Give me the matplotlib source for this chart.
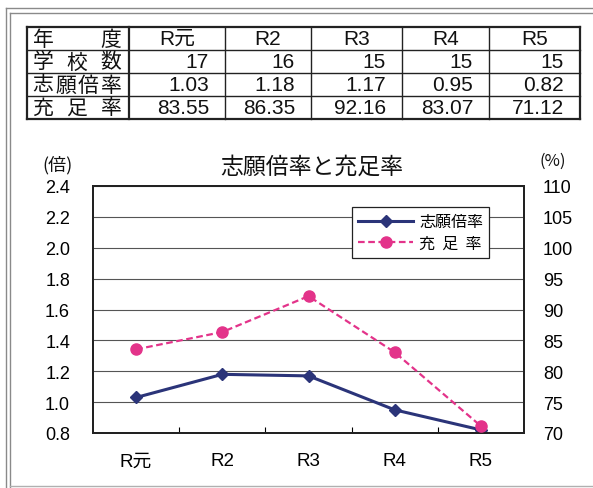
import matplotlib.pyplot as plt
import numpy as np

plt.rcParams['font.family'] = ['Liberation Sans', 'Noto Sans CJK JP']

# データ
years = ['R元', 'R2', 'R3', 'R4', 'R5']
schools = [17, 16, 15, 15, 15]
ratio = [1.03, 1.18, 1.17, 0.95, 0.82]
fill_rate = [83.55, 86.35, 92.16, 83.07, 71.12]
row_labels = ['年度', '学校数', '志願倍率', '充足率']
left_ticks = [0.8, 1.0, 1.2, 1.4, 1.6, 1.8, 2.0, 2.2, 2.4]
right_ticks = [70, 75, 80, 85, 90, 95, 100, 105, 110]

W, H = 593, 489
navy = '#2B3479'
pink = '#E3338A'
cjk = ['Noto Sans CJK JP', 'DejaVu Sans']

fig = plt.figure(figsize=(W / 100, H / 100), dpi=100)

# 背景（枠と表）をピクセル座標で
bg = fig.add_axes([0, 0, 1, 1])
bg.set_xlim(0, W)
bg.set_ylim(H, 0)
bg.axis('off')

# 二重枠
for x in (6, 10):
    bg.plot([x, x], [9 if x == 6 else 14, H], color='#8a8a8a', lw=1.0)
for y in (9, 14):
    bg.plot([6 if y == 9 else 10, W], [y, y], color='#8a8a8a', lw=1.0)
bg.plot([10, W], [487, 487], color='#b0b0b0', lw=1.0)

# 表
col_x = [27, 129, 225, 311, 402, 489, 580]
row_y = [28, 51, 74, 97, 120]
for i, x in enumerate(col_x):
    bg.plot([x, x], [row_y[0], row_y[-1]], color='#222', lw=1.6 if i in (0, 1, 6) else 1.0)
for i, y in enumerate(row_y):
    bg.plot([col_x[0], col_x[-1]], [y, y], color='#222', lw=1.6 if i in (0, 4) else 1.0)

for r, lab in enumerate(row_labels):
    yc = (row_y[r] + row_y[r + 1]) / 2
    xs = np.linspace(43, 111, len(lab))
    for ch, xc in zip(lab, xs):
        bg.text(xc, yc, ch, ha='center', va='center', fontsize=15, family=cjk, color='#111')

cells = [years,
         [str(v) for v in schools],
         ['%.2f' % v for v in ratio],
         ['%.2f' % v for v in fill_rate]]
for r, row in enumerate(cells):
    yc = (row_y[r] + row_y[r + 1]) / 2
    for c, txt in enumerate(row):
        if r == 0:
            bg.text((col_x[c + 1] + col_x[c + 2]) / 2, yc, txt, ha='center', va='center',
                    fontsize=15, color='#111')
        else:
            bg.text(col_x[c + 2] - 16, yc, txt, ha='right', va='center',
                    fontsize=15, color='#111')

# グラフ
ax = fig.add_axes([93 / W, (H - 434) / H, 431 / W, 247 / H])
ax2 = ax.twinx()

x = np.arange(len(years))
ax.plot(x, ratio, color=navy, lw=2.2, marker='D', ms=6.5, label='志願倍率', zorder=3)
ax2.plot(x, fill_rate, color=pink, lw=1.6, ls=(0, (3, 1.6)), marker='o', ms=8,
         label='充  足  率', zorder=3)

ax.set_xlim(-0.5, len(years) - 0.5)
ax.set_ylim(0.8, 2.4)
ax2.set_ylim(70, 110)
ax.set_yticks(left_ticks, ['%.1f' % v for v in left_ticks])
ax2.set_yticks(right_ticks, [str(v) for v in right_ticks])
ax.set_xticks(x, years)
ax.set_xticks(np.arange(0.5, len(years) - 1, 1), minor=True)

ax.grid(axis='y', color='#555', lw=0.8)
ax.set_axisbelow(True)
ax.tick_params(axis='y', length=0, pad=16.5, labelsize=13)
ax2.tick_params(axis='y', length=0, pad=13.5, labelsize=13)
ax.tick_params(axis='x', which='major', length=0, pad=14, labelsize=13.5)
ax.tick_params(axis='x', which='minor', direction='in', length=4, width=0.8)
for a in (ax, ax2):
    for s in a.spines.values():
        s.set_linewidth(1.4)
        s.set_color('#222')

for lab in ax.get_xticklabels():
    lab.set_family(['Liberation Sans', 'Noto Sans CJK JP'])

fig.text(312 / W, 1 - 167 / H, '志願倍率と充足率', ha='center', va='center',
         fontsize=16.5, family=cjk, color='#111')
fig.text(58 / W, 1 - 165 / H, '(倍)', ha='center', va='center', fontsize=13,
         family=cjk, color='#111')
fig.text(553 / W, 1 - 161 / H, '(%)', ha='center', va='center', fontsize=12,
         family=cjk, color='#111')

h1, l1 = ax.get_legend_handles_labels()
h2, l2 = ax2.get_legend_handles_labels()
leg = ax2.legend(h1 + h2, l1 + l2, loc='upper left',
                 bbox_to_anchor=(352 / W, 1 - 208 / H), bbox_transform=fig.transFigure,
                 borderaxespad=0, fancybox=False, edgecolor='#222', framealpha=1,
                 prop={'family': cjk, 'size': 11.5}, handlelength=3.4,
                 handletextpad=0.4, labelspacing=0.25, borderpad=0.4)
leg.get_frame().set_linewidth(0.9)

fig.savefig('out.png', dpi=100, facecolor='white')
